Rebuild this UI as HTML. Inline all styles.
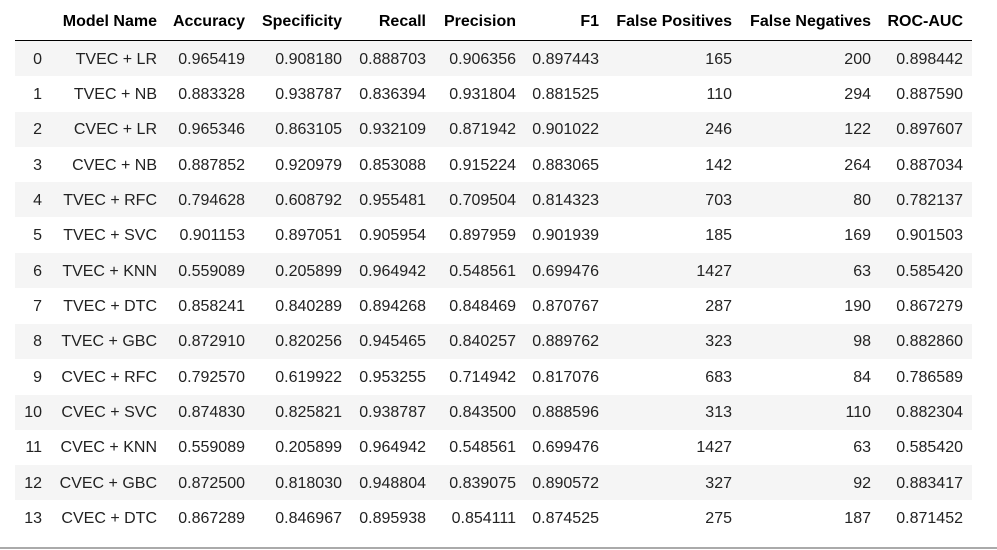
<!DOCTYPE html>
<html><head><meta charset="utf-8"><style>
body{margin:0;width:997px;height:550px;background:#fff;position:relative;overflow:hidden;font-family:"Liberation Sans",Arial,sans-serif;font-size:16px;color:#222}
.c{position:absolute;white-space:nowrap;line-height:20px;text-align:right}
.h{font-weight:bold;color:#000}
.band{position:absolute;left:15px;width:957px;height:35px;background:#f5f5f5}
</style></head><body>
<div id="tbl"></div>
<div style="position:absolute;left:15px;width:957px;top:40px;height:1px;background:#000"></div>
<div style="position:absolute;left:0;width:997px;top:547px;height:2px;background:#aaa"></div>
<script>
const headers=["","Model Name","Accuracy","Specificity","Recall","Precision","F1","False Positives","False Negatives","ROC-AUC"];
const models=["TVEC + LR","TVEC + NB","CVEC + LR","CVEC + NB","TVEC + RFC","TVEC + SVC","TVEC + KNN","TVEC + DTC","TVEC + GBC","CVEC + RFC","CVEC + SVC","CVEC + KNN","CVEC + GBC","CVEC + DTC"];
const accuracy=["0.965419","0.883328","0.965346","0.887852","0.794628","0.901153","0.559089","0.858241","0.872910","0.792570","0.874830","0.559089","0.872500","0.867289"];
const specificity=["0.908180","0.938787","0.863105","0.920979","0.608792","0.897051","0.205899","0.840289","0.820256","0.619922","0.825821","0.205899","0.818030","0.846967"];
const recall=["0.888703","0.836394","0.932109","0.853088","0.955481","0.905954","0.964942","0.894268","0.945465","0.953255","0.938787","0.964942","0.948804","0.895938"];
const precision=["0.906356","0.931804","0.871942","0.915224","0.709504","0.897959","0.548561","0.848469","0.840257","0.714942","0.843500","0.548561","0.839075","0.854111"];
const f1=["0.897443","0.881525","0.901022","0.883065","0.814323","0.901939","0.699476","0.870767","0.889762","0.817076","0.888596","0.699476","0.890572","0.874525"];
const falsePos=["165","110","246","142","703","185","1427","287","323","683","313","1427","327","275"];
const falseNeg=["200","294","122","264","80","169","63","190","98","84","110","63","92","187"];
const rocAuc=["0.898442","0.887590","0.897607","0.887034","0.782137","0.901503","0.585420","0.867279","0.882860","0.786589","0.882304","0.585420","0.883417","0.871452"];
const rights=[42,157,245,342,426,516,599,732,871,963];
const cols=[null,models,accuracy,specificity,recall,precision,f1,falsePos,falseNeg,rocAuc];
const names=["index","model-name","accuracy","specificity","recall","precision","f1","false-positives","false-negatives","roc-auc"];
const t=document.getElementById('tbl');
function cell(txt,right,cy,cls){const d=document.createElement('div');d.className='c '+cls;d.textContent=txt;d.style.right=(997-right)+'px';d.style.top=(cy-10)+'px';t.appendChild(d);return d;}
headers.forEach((h,j)=>{if(!h)return;const d=cell(h,rights[j],22,'h');

});
models.forEach((m,i)=>{const top=41+i*35.35;
if(i%2===0){const b=document.createElement('div');b.className='band';b.style.top=top+'px';


t.appendChild(b);}
const cy=top+18.5;
for(let j=0;j<10;j++){const v=j===0?String(i):cols[j][i];const d=cell(v,rights[j],cy,'');

}
});
</script>
</body></html>
